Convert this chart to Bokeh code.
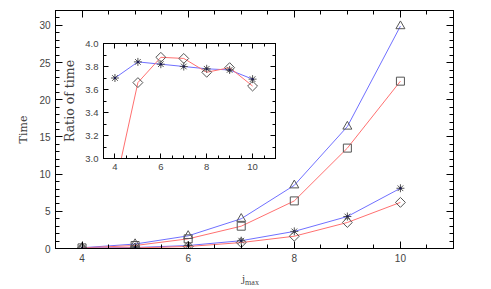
from bokeh.plotting import figure
from bokeh.models import FixedTicker, LinearAxis, Range1d, PrintfTickFormatter, Div
from bokeh.layouts import column
from bokeh.embed import file_html
from bokeh.resources import INLINE

# ---- data ----
jmax = [4, 5, 6, 7, 8, 9, 10]
time_triangle = [0.1, 0.6, 1.7, 4.0, 8.5, 16.4, 29.9]
time_square = [0.08, 0.4, 1.3, 3.0, 6.4, 13.5, 22.5]
time_asterisk = [0.03, 0.13, 0.4, 1.05, 2.3, 4.3, 8.1]
time_diamond = [0.02, 0.08, 0.27, 0.8, 1.65, 3.5, 6.2]

ratio_blue = [3.70, 3.84, 3.82, 3.80, 3.78, 3.77, 3.69]
ratio_red = [2.75, 3.66, 3.88, 3.87, 3.75, 3.79, 3.63]

x_major = [4, 6, 8, 10]
x_minor = [3.5, 4, 4.5, 5, 5.5, 6, 6.5, 7, 7.5, 8, 8.5, 9, 9.5, 10, 10.5, 11]
y_major = [0, 5, 10, 15, 20, 25, 30]
y_minor = list(range(0, 33))
r_major = [3.0, 3.2, 3.4, 3.6, 3.8, 4.0]
r_minor = [3.0, 3.1, 3.2, 3.3, 3.4, 3.5, 3.6, 3.7, 3.8, 3.9, 4.0]

BLUE = "#7070ff"
RED = "#ff7070"
MARK = "#555555"
TXT = "#444444"
NUMFONT = "Liberation Sans"
LABFONT = "DejaVu Serif"
DIAMOND_ANGLE = 0.785398


def style_axis(ax, major, minor, maj_len, min_len, labels, size="10px"):
    ax.ticker = FixedTicker(ticks=major, minor_ticks=minor)
    ax.major_tick_in = maj_len
    ax.major_tick_out = 0
    ax.minor_tick_in = min_len
    ax.minor_tick_out = 0
    ax.axis_line_color = "black"
    ax.major_tick_line_color = "black"
    ax.minor_tick_line_color = "black"
    if labels:
        ax.major_label_text_font = NUMFONT
        ax.major_label_text_font_size = size
        ax.major_label_text_color = TXT
        ax.major_label_standoff = 5
    else:
        ax.major_label_text_font_size = "0px"
        ax.major_label_text_color = None
        ax.major_label_standoff = 0


# ---- main plot ----
p = figure(width=491, height=289, x_range=Range1d(3.5, 11), y_range=Range1d(0, 32),
           output_backend="svg", toolbar_location=None,
           min_border_left=52, min_border_right=38, min_border_top=10, min_border_bottom=41)
p.xgrid.visible = False
p.ygrid.visible = False
p.outline_line_color = "black"
p.background_fill_color = "white"
p.border_fill_color = "white"

style_axis(p.xaxis[0], x_major, x_minor, 7, 4, True)
style_axis(p.yaxis[0], y_major, y_minor, 7, 4, True)
p.yaxis[0].axis_label = "Time"
p.yaxis[0].axis_label_text_font = LABFONT
p.yaxis[0].axis_label_text_font_size = "11px"
p.yaxis[0].axis_label_text_font_style = "normal"
p.yaxis[0].axis_label_text_color = TXT
p.yaxis[0].axis_label_standoff = 6

top_ax = LinearAxis()
style_axis(top_ax, x_major, x_minor, 7, 4, False)
p.add_layout(top_ax, "above")
right_ax = LinearAxis()
style_axis(right_ax, y_major, y_minor, 7, 4, False)
p.add_layout(right_ax, "right")

p.line(jmax, time_triangle, line_color=BLUE, line_width=1)
p.line(jmax, time_square, line_color=RED, line_width=1)
p.line(jmax, time_asterisk, line_color=BLUE, line_width=1)
p.line(jmax, time_diamond, line_color=RED, line_width=1)
p.scatter(jmax, time_triangle, marker="triangle", size=9, fill_color=None, line_color=MARK)
p.scatter(jmax, time_square, marker="square", size=8, fill_color=None, line_color=MARK)
p.scatter(jmax, time_asterisk, marker="asterisk", size=8, line_color=MARK)
p.scatter(jmax, time_asterisk, marker="circle", size=2.5, fill_color="#1c1c50", line_color=None)
p.scatter(jmax, time_diamond, marker="square", angle=DIAMOND_ANGLE, size=7,
          fill_color=None, line_color=MARK)

# x axis title j_max (HTML text, subscript)
xtitle = Div(
    text='<div style="line-height:12px;white-space:nowrap;color:#444444">'
         '<span style="font-family:\'DejaVu Serif\';font-size:10px">j</span>'
         '<span style="font-family:\'Liberation Serif\';font-size:8px;position:relative;top:3px">max</span>'
         '</div>',
    width=40, height=16,
    styles={"position": "absolute", "left": "242px", "top": "270px", "margin": "0", "padding": "0"})

# ---- inset ----
q = figure(frame_width=172, frame_height=115, x_range=Range1d(3.5, 11), y_range=Range1d(3.0, 4.0),
           output_backend="svg", toolbar_location=None,
           min_border_left=55, min_border_right=3, min_border_top=8, min_border_bottom=22,
           styles={"position": "absolute", "left": "48px", "top": "35px"})
q.xgrid.visible = False
q.ygrid.visible = False
q.outline_line_color = "black"
q.background_fill_color = "white"
q.border_fill_color = None
style_axis(q.xaxis[0], x_major, x_minor, 5, 3, True, "9.5px")
style_axis(q.yaxis[0], r_major, r_minor, 5, 3, True, "9.5px")
q.yaxis[0].formatter = PrintfTickFormatter(format="%.1f")
q.yaxis[0].axis_label = "Ratio of time"
q.yaxis[0].axis_label_text_font = LABFONT
q.yaxis[0].axis_label_text_font_size = "12.5px"
q.yaxis[0].axis_label_text_font_style = "normal"
q.yaxis[0].axis_label_text_color = TXT
q.yaxis[0].axis_label_standoff = 5
qt = LinearAxis()
style_axis(qt, x_major, x_minor, 5, 3, False)
q.add_layout(qt, "above")
qr = LinearAxis()
style_axis(qr, r_major, r_minor, 5, 3, False)
q.add_layout(qr, "right")

q.line(jmax, ratio_blue, line_color=BLUE, line_width=1)
q.line(jmax, ratio_red, line_color=RED, line_width=1)
q.scatter(jmax, ratio_blue, marker="asterisk", size=8, line_color=MARK)
q.scatter(jmax, ratio_blue, marker="circle", size=2.5, fill_color="#1c1c50", line_color=None)
q.scatter(jmax, ratio_red, marker="square", angle=DIAMOND_ANGLE, size=7,
          fill_color=None, line_color=MARK)

layout = column(p, q, xtitle)
open("out.html", "w").write(file_html(layout, INLINE))
